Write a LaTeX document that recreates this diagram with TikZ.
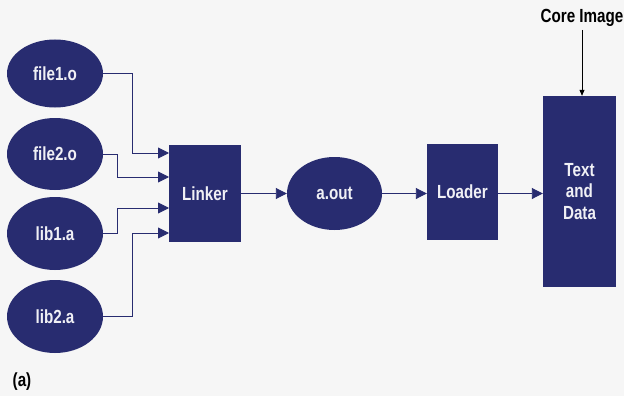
\documentclass[tikz,border=0pt]{standalone}
\usepackage{fontspec}
\setmainfont{Liberation Sans}[FakeStretch=0.8]
\usetikzlibrary{shapes.geometric,arrows.meta}
\definecolor{navy}{RGB}{40,44,112}
\definecolor{paper}{RGB}{246,246,246}
\tikzset{
  lbl/.style={font=\fontsize{19}{21.5}\selectfont\bfseries, text=white!93!navy, align=center},
  oval/.style={ellipse, fill=navy, inner sep=0pt, lbl},
  boxnode/.style={rectangle, fill=navy, inner sep=0pt, lbl},
  conn/.style={draw=navy, line width=0.9pt, -{Triangle[length=11pt,width=11pt]}},
  thin arrow/.style={draw=black, line width=0.8pt, -{Triangle[length=6pt,width=5pt]}}
}
\begin{document}
\begin{tikzpicture}[x=1pt,y=-1pt]
\fill[paper] (0,0) rectangle (624,396);
\useasboundingbox (0,0) rectangle (624,396);
% source ellipses
\node[oval, minimum width=96pt, minimum height=68pt] (f1) at (55,73.5) {file1.o};
\node[oval, minimum width=96pt, minimum height=72pt] (f2) at (55,154) {file2.o};
\node[oval, minimum width=96pt, minimum height=73pt] (l1) at (55,233.5) {lib1.a};
\node[oval, minimum width=96pt, minimum height=73pt] (l2) at (55,316.5) {lib2.a};
% main chain
\node[boxnode, minimum width=72pt, minimum height=97pt] (linker) at (205,193.5) {Linker};
\node[oval, minimum width=95pt, minimum height=73pt] (aout) at (334.5,193.5) {a.out};
\node[boxnode, minimum width=71pt, minimum height=96pt] (loader) at (462.5,192) {Loader};
\node[boxnode, minimum width=73pt, minimum height=191pt] (core) at (579.5,191.5) {Text\\and\\Data};
% inputs to linker
\coordinate (in1) at (169,153);
\coordinate (in2) at (169,177);
\coordinate (in3) at (169,208);
\coordinate (in4) at (169,233);
\draw[conn] (f1.east) -- ++(29,0) |- (in1);
\draw[conn] (f2.east) -- ++(14,0) |- (in2);
\draw[conn] (l1.east) -- ++(14,0) |- (in3);
\draw[conn] (l2.east) -- ++(29,0) |- (in4);
% chain arrows
\draw[conn] (linker.east) -- (aout.west);
\draw[conn] (aout.east) -- (loader.west |- aout.east);
\draw[conn] (loader.east |- aout.east) -- (core.west |- aout.east);
% core image label
\node[font=\fontsize{19}{20}\selectfont\bfseries, text=black, inner sep=0pt] (cimg) at (582,18) {Core Image};
\draw[thin arrow] (cimg.south |- 0,30) -- (cimg.south |- core.north);
% caption
\node[font=\fontsize{19}{20}\selectfont\bfseries, text=black, inner sep=0pt] (cap) at (22,382) {(a)};
\end{tikzpicture}
\end{document}
